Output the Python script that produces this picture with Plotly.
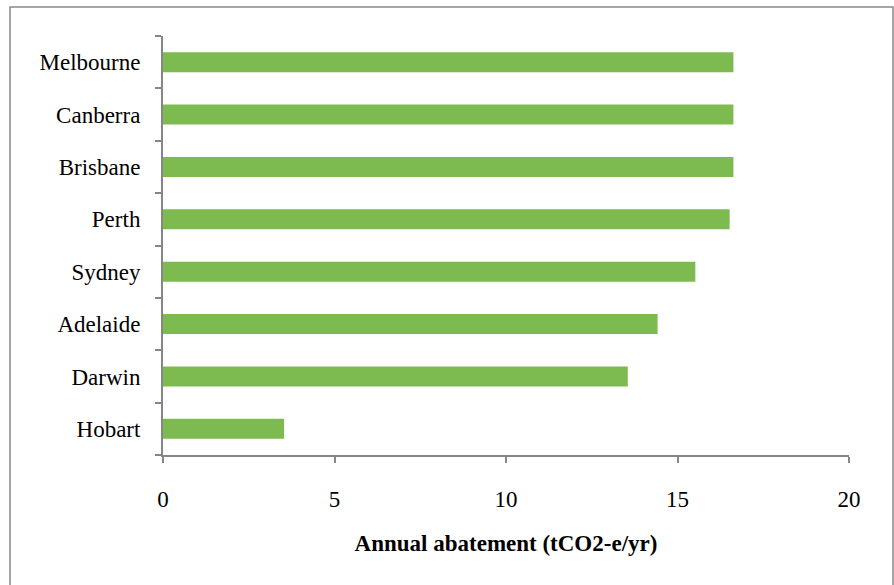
import plotly.graph_objects as go

cities = ["Hobart", "Darwin", "Adelaide", "Sydney", "Perth", "Brisbane", "Canberra", "Melbourne"]
abatement = [3.53, 13.55, 14.42, 15.52, 16.52, 16.63, 16.63, 16.63]
x_ticks = [0, 5, 10, 15, 20]

fig = go.Figure(go.Bar(
    y=cities, x=abatement, orientation="h",
    marker=dict(color="#7DBA50", line=dict(width=0)),
    width=0.38,
))

font_family = "Liberation Serif"
fig.update_layout(
    width=894, height=585,
    margin=dict(l=163, r=45, t=36, b=130),
    paper_bgcolor="white", plot_bgcolor="white",
    showlegend=False,
    font=dict(family=font_family, color="black"),
    xaxis=dict(
        range=[0, 20], tickvals=x_ticks, ticktext=[str(v) for v in x_ticks],
        showgrid=False, zeroline=False,
        showline=True, linecolor="#868686", linewidth=2,
        ticks="outside", ticklen=6, tickcolor="#868686", tickwidth=2,
        tickfont=dict(size=23, family=font_family),
        ticklabelstandoff=16,
        title=dict(text="<b>Annual abatement (tCO2-e/yr)</b>",
                   font=dict(size=23, family=font_family), standoff=24),
    ),
    yaxis=dict(
        showgrid=False, zeroline=False,
        showline=True, linecolor="#868686", linewidth=2,
        ticks="outside", ticklen=6, tickcolor="#868686", tickwidth=2,
        tickson="boundaries",
        tickfont=dict(size=23, family=font_family),
        ticklabelstandoff=16,
    ),
    shapes=[dict(type="rect", xref="paper", yref="paper",
                 x0=-153/686, x1=(893-163)/686, y0=(455-600)/419, y1=(455-7)/419,
                 line=dict(color="#898989", width=1.5), fillcolor="rgba(0,0,0,0)")],
)

fig.write_html("out.html")
